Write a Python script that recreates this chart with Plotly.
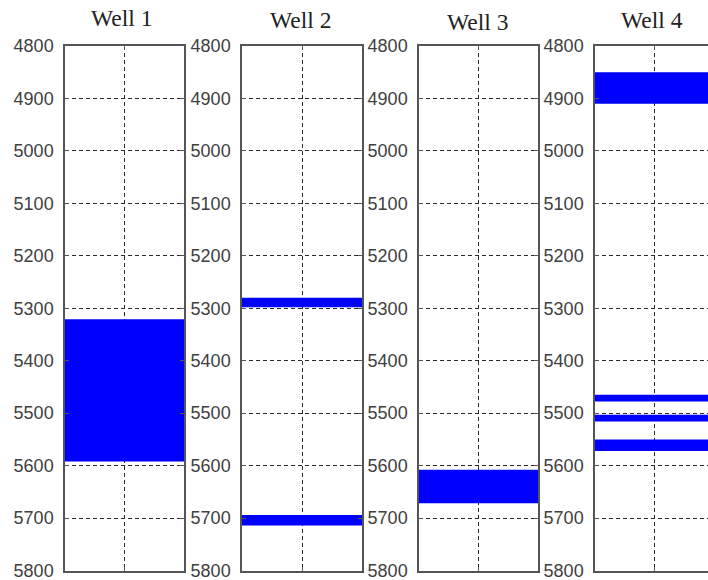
import plotly.graph_objects as go

# Pay-zone intervals (depth, top and bottom) per well
well_names = ["Well 1", "Well 2", "Well 3", "Well 4"]
zone_tops = [[5321], [5280, 5694], [5608], [4850, 5465, 5503, 5550]]
zone_bottoms = [[5592], [5298, 5714], [5672], [4910, 5478, 5516, 5572]]
depth_ticks = [4800, 4900, 5000, 5100, 5200, 5300, 5400, 5500, 5600, 5700, 5800]

W, H = 708, 580
# Horizontal extents of each track in pixels (last one runs off the right edge)
track_px = [(65, 184), (242, 362), (419, 538), (595, 714)]
title_y_px = [18, 20, 22, 20]
title_x_shift = [-3, -2, -1, -3]
top_px, bottom_px = 46, 570.5

fig = go.Figure()
frame_color = "#555555"
grid_color = "#2a2a2a"

for i, name in enumerate(well_names):
    n = i + 1
    xa = "x" if n == 1 else f"x{n}"
    ya = "y" if n == 1 else f"y{n}"
    x0, x1 = track_px[i]
    width_px = x1 - x0
    vis_right = min(x1, W)
    xmax = (vis_right - x0) / width_px

    tops = zone_tops[i]
    bots = zone_bottoms[i]
    fig.add_trace(go.Bar(
        x=[0.5] * len(tops),
        base=tops,
        y=[b - t for t, b in zip(tops, bots)],
        width=1.0,
        marker=dict(color="#0000FF", line=dict(width=0)),
        opacity=1,
        xaxis=xa, yaxis=ya,
        showlegend=False,
        hoverinfo="skip",
    ))

    clipped = x1 > W
    fig.layout[("xaxis" if n == 1 else f"xaxis{n}")] = dict(
        domain=[x0 / W, vis_right / W],
        range=[0, xmax],
        tickvals=[0.5],
        showticklabels=False,
        ticks="inside", ticklen=4, tickcolor=frame_color, tickwidth=1,
        showline=True, linecolor=frame_color, linewidth=1.5, mirror="ticks",
        showgrid=True, gridcolor=grid_color, gridwidth=1, griddash="4px,3px",
        zeroline=False, fixedrange=True, automargin=False,
        anchor=ya,
    )
    fig.layout[("yaxis" if n == 1 else f"yaxis{n}")] = dict(
        domain=[1 - bottom_px / H, 1 - top_px / H],
        range=[5800, 4800],
        tickvals=depth_ticks,
        ticktext=[str(v) for v in depth_ticks],
        tickfont=dict(family="Liberation Sans, Arial", size=18, color="#404040"),
        ticks="inside", ticklen=4, tickcolor=frame_color, tickwidth=1,
        ticklabelstandoff=6, ticklabeloverflow="allow",
        showline=True, linecolor=frame_color, linewidth=1.5,
        mirror=False if clipped else "ticks",
        showgrid=True, gridcolor=grid_color, gridwidth=1, griddash="4px,3px",
        zeroline=False, fixedrange=True, automargin=False,
        anchor=xa,
    )

    fig.add_annotation(
        text=name, xref="paper", yref="paper",
        x=(x0 + width_px / 2 + title_x_shift[i]) / W, y=1 - title_y_px[i] / H,
        xanchor="center", yanchor="middle", showarrow=False,
        font=dict(family="Liberation Serif, Times New Roman", size=23.5, color="#222222"),
    )

fig.update_layout(
    width=W, height=H,
    margin=dict(l=0, r=0, t=0, b=0, pad=0, autoexpand=False),
    paper_bgcolor="white", plot_bgcolor="white",
    barmode="overlay",
)

fig.write_html("out.html")
